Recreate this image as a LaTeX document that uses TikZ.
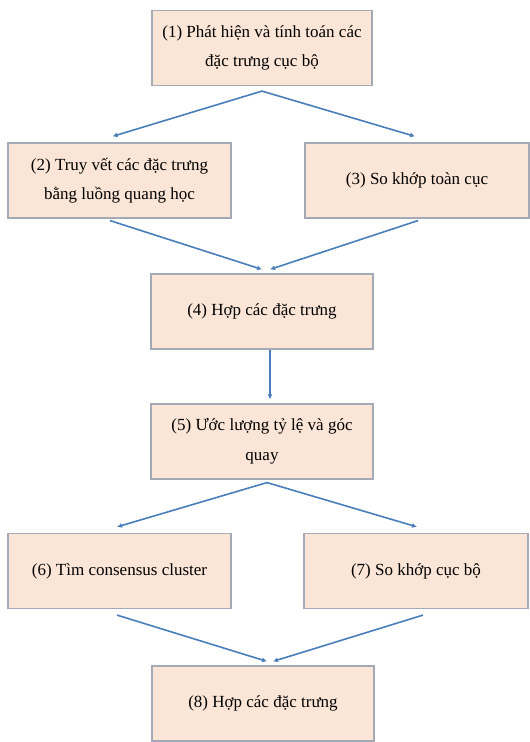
\documentclass[tikz,border=0pt]{standalone}
\usepackage{fontspec}
\setmainfont{Liberation Serif}
\usetikzlibrary{arrows.meta}
\definecolor{boxfill}{HTML}{FBE5D6}
\definecolor{boxline}{HTML}{A3AAB5}
\definecolor{arrblue}{HTML}{4A7EBB}
\begin{document}
\begin{tikzpicture}[x=1pt,y=1pt,
  stepbox/.style={draw=boxline,line width=1.2pt,fill=boxfill,minimum height=75pt,
    align=center,inner sep=0pt,font=\fontsize{17}{29.5}\selectfont},
  arr/.style={draw=arrblue,line width=1.6pt,-{Latex[length=5pt,width=5pt]}}]
\useasboundingbox (0,0) rectangle (530,742);
\fill[white] (0,0) rectangle (530,742);
\node[stepbox,minimum width=220pt] (b1) at (262,694) {(1) Phát hiện và tính toán các\\đặc trưng cục bộ};
\node[stepbox,minimum width=223pt] (b2) at (119.5,561.5) {(2) Truy vết các đặc trưng\\bằng luồng quang học};
\node[stepbox,minimum width=224pt] (b3) at (417,561.5) {(3) So khớp toàn cục};
\node[stepbox,minimum width=222pt] (b4) at (262,430.5) {(4) Hợp các đặc trưng};
\node[stepbox,minimum width=222pt] (b5) at (262,300.5) {(5) Ước lượng tỷ lệ và góc\\quay};
\node[stepbox,minimum width=223pt] (b6) at (119.5,171) {(6) Tìm consensus cluster};
\node[stepbox,minimum width=224pt] (b7) at (416,171) {(7) So khớp cục bộ};
\node[stepbox,minimum width=222pt] (b8) at (263,38.5) {(8) Hợp các đặc trưng};
\draw[arr] ([yshift=-5pt]b1.south) -- ([xshift=-7pt,yshift=6pt]b2.north);
\draw[arr] ([yshift=-5pt]b1.south) -- ([xshift=-2pt,yshift=6pt]b3.north);
\draw[arr] ([xshift=-9.5pt,yshift=-2pt]b2.south) -- ([xshift=0pt,yshift=4pt]b4.north);
\draw[arr] ([xshift=1pt,yshift=-2pt]b3.south) -- ([xshift=8pt,yshift=4pt]b4.north);
\draw[arr] ([xshift=8pt]b4.south) -- ([xshift=8pt,yshift=4pt]b5.north);
\draw[arr] ([xshift=5pt,yshift=-3pt]b5.south) -- ([xshift=-2.5pt,yshift=6pt]b6.north);
\draw[arr] ([xshift=5pt,yshift=-3pt]b5.south) -- ([xshift=1pt,yshift=6pt]b7.north);
\draw[arr] ([xshift=-2.5pt,yshift=-6pt]b6.south) -- ([xshift=4pt,yshift=4pt]b8.north);
\draw[arr] ([xshift=7pt,yshift=-6pt]b7.south) -- ([xshift=10pt,yshift=4pt]b8.north);
\end{tikzpicture}
\end{document}
